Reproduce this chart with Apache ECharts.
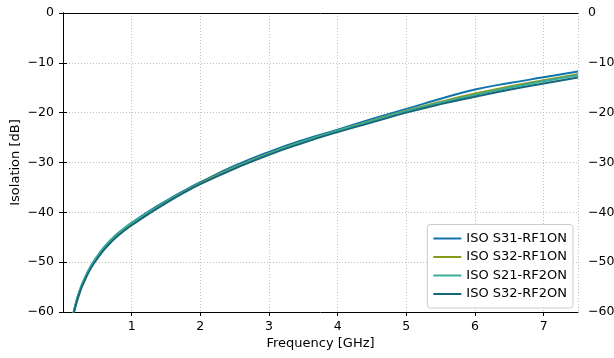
<!DOCTYPE html>
<html>
<head>
<meta charset="utf-8">
<script src="https://cdn.jsdelivr.net/npm/echarts@6/dist/echarts.min.js"></script>
<style>html,body{margin:0;padding:0;background:#fff}#c{width:614px;height:358px}</style>
</head>
<body>
<div id="c"></div>
<script>
const freq =      [0.1,   0.15,  0.2,   0.25,  0.3,   0.4,   0.5,   0.6,   0.7,   0.8,   0.9,   1.0,   1.25,  1.5,   1.75,   2.0,    2.5,    3.0,    3.5,    4.0,   4.5,    5.0,    5.5,   6.0,    6.5,    7.0,   7.5];
const isoS31RF1 = [-64.2, -60.3, -57.55, -55.4, -53.7, -50.9, -48.8, -47.0, -45.5, -44.2, -43.1, -42.1, -39.8, -37.7, -35.75, -33.95, -30.65, -27.85, -25.45, -23.4, -21.25, -19.25, -17.2, -15.35, -14.05, -12.9, -11.75];
const isoS32RF1 = [-64.4, -60.5, -57.75, -55.6, -53.9, -51.1, -49.0, -47.2, -45.7, -44.4, -43.3, -42.3, -40.0, -37.9, -35.95, -34.15, -30.95, -28.15, -25.75, -23.6, -21.55, -19.6,  -17.8, -16.15, -14.75, -13.5, -12.3];
const isoS21RF2 = [-64.2, -60.3, -57.55, -55.4, -53.7, -50.9, -48.8, -47.0, -45.5, -44.2, -43.1, -42.1, -40.0, -37.9, -36.0,  -34.25, -31.05, -28.25, -25.8,  -23.6, -21.65, -19.7,  -18.0, -16.45, -15.0,  -13.7, -12.5];
const isoS32RF2 = [-64.7, -60.8, -58.05, -55.9, -54.2, -51.4, -49.3, -47.5, -46.0, -44.7, -43.6, -42.6, -40.3, -38.15, -36.15, -34.35, -31.25, -28.45, -26.05, -23.9, -21.95, -20.0,  -18.3, -16.8,  -15.4,  -14.15, -12.95];
const seriesNames = ['ISO S31-RF1ON', 'ISO S32-RF1ON', 'ISO S21-RF2ON', 'ISO S32-RF2ON'];
const seriesData = [isoS31RF1, isoS32RF1, isoS21RF2, isoS32RF2];
const colors = ['#0f74ad', '#8a9a17', '#34ae9b', '#176579'];

const FONT = 'DejaVu Sans';
const fmt = v => String(v).replace('-', '\u2212');

const chart = echarts.init(document.getElementById('c'), null, {renderer: 'canvas'});
const gridLine = {color: '#b0b0b0', width: 0.8, type: [1, 2]};
const yAxisCommon = {
  type: 'value', min: -60, max: 0, interval: 10,
  axisLine: {show: true, lineStyle: {color: '#000', width: 1}},
  axisTick: {show: true, length: 4, lineStyle: {color: '#000', width: 1}},
  axisLabel: {color: '#000', fontFamily: FONT, fontSize: 12.5, margin: 9, formatter: fmt}
};
chart.setOption({
  animation: false,
  backgroundColor: '#fff',
  textStyle: {fontFamily: FONT},
  grid: {left: 63, right: 36, top: 13, bottom: 46, show: false, containLabel: false, outerBoundsMode: 'none'},
  legend: {
    orient: 'vertical', right: 41, bottom: 50,
    data: seriesNames,
    icon: 'rect', itemWidth: 28, itemHeight: 2, itemGap: 0.5,
    textStyle: {fontFamily: FONT, fontSize: 13, color: '#000', lineHeight: 18},
    backgroundColor: 'rgba(255,255,255,0.85)', borderColor: '#cccccc', borderWidth: 1, borderRadius: 3,
    padding: [5, 6, 5, 6]
  },
  xAxis: [{
    type: 'value', min: 0, max: 7.5, interval: 1, position: 'bottom',
    name: 'Frequency [GHz]', nameLocation: 'middle', nameGap: 25, nameMoveOverlap: false,
    nameTextStyle: {fontFamily: FONT, fontSize: 13, color: '#000'},
    axisLine: {show: true, onZero: false, lineStyle: {color: '#000', width: 1}},
    axisTick: {show: true, length: 4, lineStyle: {color: '#000', width: 1}},
    axisLabel: {color: '#000', fontFamily: FONT, fontSize: 12.5, margin: 8, showMinLabel: false, showMaxLabel: false},
    splitLine: {show: true, lineStyle: gridLine}
  }, {
    type: 'value', min: 0, max: 7.5, interval: 1, position: 'top',
    axisLine: {show: true, onZero: false, lineStyle: {color: '#000', width: 1}},
    axisTick: {show: false}, axisLabel: {show: false}, splitLine: {show: false}
  }],
  yAxis: [
    Object.assign({}, yAxisCommon, {
      position: 'left',
      name: 'Isolation [dB]', nameLocation: 'middle', nameGap: 41, nameMoveOverlap: false,
      nameTextStyle: {fontFamily: FONT, fontSize: 13, color: '#000'},
      splitLine: {show: true, lineStyle: gridLine}
    }),
    Object.assign({}, yAxisCommon, {
      position: 'right',
      axisLabel: Object.assign({}, yAxisCommon.axisLabel, {margin: 10}),
      splitLine: {show: false}
    })
  ],
  series: seriesNames.map((n, i) => ({
    name: n, type: 'line', smooth: 0.5, showSymbol: false, symbol: 'none', clip: true,
    xAxisIndex: 0, yAxisIndex: 0,
    lineStyle: {color: colors[i], width: 1.9},
    itemStyle: {color: colors[i]},
    data: freq.map((f, k) => [f, seriesData[i][k]])
  }))
});
</script>
</body>
</html>
